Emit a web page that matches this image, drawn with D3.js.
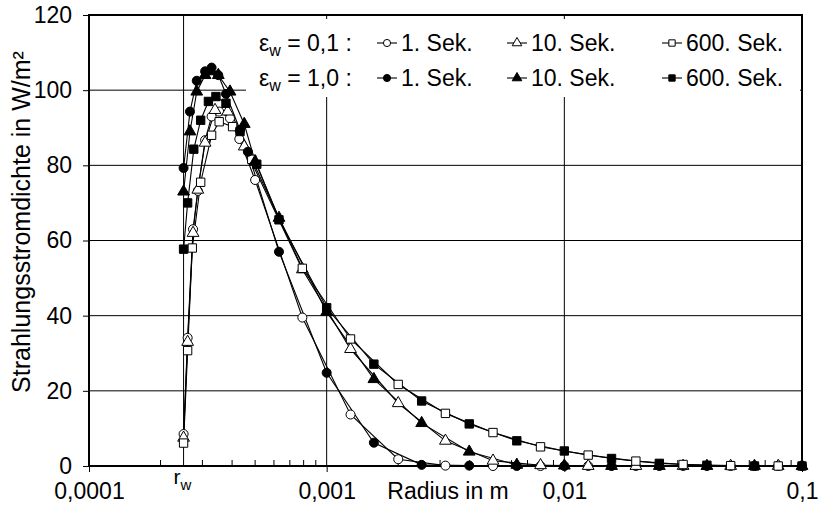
<!DOCTYPE html>
<html lang="de">
<head>
<meta charset="UTF-8">
<title>Strahlungsstromdichte</title>
<script src="https://cdn.jsdelivr.net/npm/d3@7/dist/d3.min.js"></script>
<style>
  body { margin: 0; background: #fff; }
  svg { display: block; font-family: Arial, "Liberation Sans", sans-serif; }
</style>
</head>
<body>
<svg width="819" height="515"></svg>
<script>
// radius in m, Strahlungsstromdichte in W/m²
const rW = 0.00025;

// eps_w = 0,1
const r_e01_1s   = [0.00025, 0.00026, 0.000274, 0.000287, 0.000308, 0.000328, 0.000353, 0.000392, 0.000429, 0.0005,
                    0.00079, 0.00126, 0.002, 0.00316, 0.00501, 0.00794, 0.0126, 0.02, 0.0316, 0.0501, 0.0794];
const q_e01_1s   = [8.5, 34.1, 63, 73.2, 86.7, 93, 94.3, 92.5, 87, 76.1,
                    39.5, 13.7, 1.8, 0.1, 0, 0, 0, 0, 0, 0, 0];
const r_e01_10s  = [0.00025, 0.00026, 0.000274, 0.000287, 0.000308, 0.000339, 0.000383, 0.00045,
                    0.00079, 0.00126, 0.002, 0.00316, 0.00501, 0.00794, 0.0126, 0.02, 0.0316, 0.0501, 0.0794];
const q_e01_10s  = [7.5, 33, 62, 73.5, 86, 94.7, 94.3, 85,
                    52.3, 31.1, 16.7, 6.7, 1.4, 0.2, 0, 0, 0, 0, 0];
const r_e01_600s = [0.00025, 0.00026, 0.000272, 0.000295, 0.000328, 0.000353, 0.000402, 0.000484,
                    0.00079, 0.00126, 0.002, 0.00316, 0.00501, 0.00794, 0.0126, 0.02, 0.0316, 0.0501, 0.0794];
const q_e01_600s = [6.1, 30.7, 58, 75.5, 88, 91.6, 90.3, 81.6,
                    52.6, 33.8, 21.7, 14, 8.9, 5.1, 2.9, 1.3, 0.4, 0.1, 0];

// eps_w = 1,0
const r_e10_1s   = [0.00025, 0.000266, 0.000284, 0.000308, 0.000328, 0.00035, 0.000377, 0.000432, 0.000466,
                    0.00063, 0.001, 0.00158, 0.00251, 0.00398, 0.00631, 0.01, 0.0158, 0.0251, 0.0398, 0.0631, 0.1];
const q_e10_1s   = [79.3, 94.3, 102.5, 105, 106, 104, 99, 89.4, 83.6,
                    57, 24.8, 6.2, 0.3, 0.1, 0, 0, 0, 0, 0, 0, 0];
const r_e10_10s  = [0.00025, 0.000266, 0.000284, 0.000308, 0.000328, 0.00035, 0.000392, 0.00045, 0.0005,
                    0.00063, 0.001, 0.00158, 0.00251, 0.00398, 0.00631, 0.01, 0.0158, 0.0251, 0.0398, 0.0631, 0.1];
const q_e10_10s  = [73, 89, 99.6, 104, 105, 104, 99.6, 91, 81,
                    66, 41, 23.1, 11.4, 3.8, 0.3, 0.1, 0, 0, 0, 0, 0];
const r_e10_600s = [0.00025, 0.00026, 0.000276, 0.000295, 0.000318, 0.000342, 0.000377, 0.000432, 0.000508,
                    0.00063, 0.001, 0.00158, 0.00251, 0.00398, 0.00631, 0.01, 0.0158, 0.0251, 0.0398, 0.0631, 0.1];
const q_e10_600s = [57.7, 70, 84.3, 92, 97, 98.3, 96.5, 89, 80.3,
                    65.5, 42.1, 27.1, 17.3, 11.2, 6.7, 4.0, 2.0, 0.7, 0.2, 0, 0];

const xTicks = [0.0001, 0.001, 0.01, 0.1];
const xTickLabels = ["0,0001", "0,001", "0,01", "0,1"];
const yTicks = [0, 20, 40, 60, 80, 100, 120];

const series = [
  { r: r_e01_1s,   q: q_e01_1s,   shape: "circle",   fill: "#fff", label: "1. Sek." },
  { r: r_e01_10s,  q: q_e01_10s,  shape: "triangle", fill: "#fff", label: "10. Sek." },
  { r: r_e01_600s, q: q_e01_600s, shape: "square",   fill: "#fff", label: "600. Sek." },
  { r: r_e10_1s,   q: q_e10_1s,   shape: "circle",   fill: "#000", label: "1. Sek." },
  { r: r_e10_10s,  q: q_e10_10s,  shape: "triangle", fill: "#000", label: "10. Sek." },
  { r: r_e10_600s, q: q_e10_600s, shape: "square",   fill: "#000", label: "600. Sek." }
];

const svg = d3.select("svg");
const pLeft = 89, pRight = 802, pTop = 15, pBottom = 466;
const fs = 23;

const x = d3.scaleLog().domain([0.0001, 0.1]).range([pLeft, pRight]);
const y = d3.scaleLinear().domain([0, 120]).range([pBottom, pTop]);

const symType = { circle: d3.symbolCircle, triangle: d3.symbolTriangle, square: d3.symbolSquare };
const symSize = { circle: 64, triangle: 60, square: 70 };

// grid
const grid = svg.append("g").attr("stroke", "#000").attr("stroke-width", 1);
grid.selectAll(".hg").data(yTicks.filter(d => d > 0 && d < 120)).join("line")
  .attr("x1", pLeft).attr("x2", pRight)
  .attr("y1", d => y(d)).attr("y2", d => y(d));
grid.selectAll(".vg").data([0.001, 0.01, rW]).join("line")
  .attr("x1", d => x(d)).attr("x2", d => x(d))
  .attr("y1", pTop).attr("y2", pBottom);

// axes
const yAxis = svg.append("g").attr("transform", `translate(${pLeft},0)`)
  .call(d3.axisLeft(y).tickValues(yTicks).tickSize(6).tickPadding(11));
const xAxis = svg.append("g").attr("transform", `translate(0,${pBottom})`)
  .call(d3.axisBottom(x).tickValues(xTicks).tickSize(6).tickPadding(11)
    .tickFormat((d, i) => xTickLabels[i]));
[xAxis, yAxis].forEach(a => {
  a.select(".domain").remove();
  a.selectAll("text").attr("font-size", fs).attr("font-family", "Arial, 'Liberation Sans', sans-serif").attr("fill", "#000");
  a.selectAll("line").attr("stroke", "#000");
});

// minor ticks on log axis
const minor = [];
[0.0001, 0.001, 0.01].forEach(dec => { for (let k = 2; k <= 9; k++) minor.push(dec * k); });
svg.append("g").selectAll("line").data(minor).join("line")
  .attr("x1", d => x(d)).attr("x2", d => x(d))
  .attr("y1", pBottom).attr("y2", pBottom - 6)
  .attr("stroke", "#000");

// frame
svg.append("rect").attr("x", pLeft).attr("y", pTop)
  .attr("width", pRight - pLeft).attr("height", pBottom - pTop)
  .attr("fill", "none").attr("stroke", "#000").attr("stroke-width", 2);

// series
const line = d3.line().x(d => x(d[0])).y(d => y(d[1]));
series.forEach(s => {
  const pts = s.r.map((r, i) => [r, s.q[i]]);
  svg.append("path").datum(pts).attr("d", line)
    .attr("fill", "none").attr("stroke", "#000").attr("stroke-width", 1.1);
});
series.forEach(s => {
  const pts = s.r.map((r, i) => [r, s.q[i]]);
  svg.append("g").selectAll("path").data(pts).join("path")
    .attr("transform", d => `translate(${x(d[0])},${y(d[1])})`)
    .attr("d", d3.symbol().type(symType[s.shape]).size(symSize[s.shape]))
    .attr("fill", s.fill).attr("stroke", "#000").attr("stroke-width", 1);
});

// axis titles
svg.append("text").attr("x", 448).attr("y", 499).attr("text-anchor", "middle")
  .attr("font-size", fs).text("Radius in m");
svg.append("text").attr("transform", "translate(30,222) rotate(-90)")
  .attr("text-anchor", "middle").attr("font-size", 25)
  .text("Strahlungsstromdichte in W/m²");
const rwLabel = svg.append("text").attr("x", x(rW) - 10).attr("y", 484).attr("font-size", 21);
rwLabel.append("tspan").text("r");
rwLabel.append("tspan").attr("font-size", 15).attr("dy", 6).text("w");

// legend
const lg = svg.append("g");
lg.append("rect").attr("x", 246).attr("y", 19).attr("width", 554).attr("height", 78).attr("fill", "#fff");
const rowY = [43, 78];
const rowLabel = [" = 0,1 :", " = 1,0 :"];
const colX = [387, 517, 672];
rowY.forEach((ry, row) => {
  const t = lg.append("text").attr("x", 259).attr("y", ry + 8).attr("font-size", fs);
  t.append("tspan").text("ε");
  t.append("tspan").attr("font-size", 16).attr("dy", 5).text("w");
  t.append("tspan").attr("dy", -5).text(rowLabel[row]);
  colX.forEach((cx, col) => {
    const s = series[row * 3 + col];
    lg.append("line").attr("x1", cx - 10).attr("x2", cx + 10).attr("y1", ry).attr("y2", ry)
      .attr("stroke", "#000").attr("stroke-width", 1.1);
    lg.append("path").attr("transform", `translate(${cx},${ry})`)
      .attr("d", d3.symbol().type(symType[s.shape]).size(40))
      .attr("fill", s.fill).attr("stroke", "#000");
    lg.append("text").attr("x", cx + 14).attr("y", ry + 8).attr("font-size", fs).text(s.label);
  });
});
</script>
</body>
</html>
